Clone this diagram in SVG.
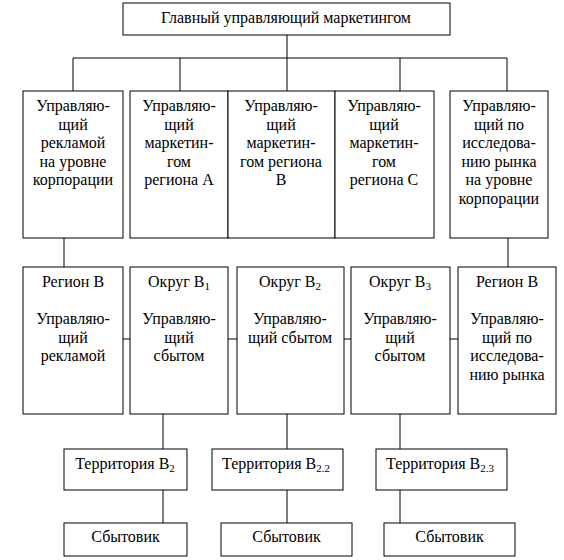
<svg xmlns="http://www.w3.org/2000/svg" width="564" height="560" viewBox="0 0 564 560" font-family="Liberation Serif, serif">
<style>
rect{fill:#fff;stroke:#000;stroke-width:1}
text{font-family:'Liberation Serif','Times New Roman',serif;font-size:16px;fill:#000;text-anchor:middle}
.sub{font-size:11px}
#connectors line{stroke:#000;stroke-width:1}
</style>
<rect x="0" y="0" width="564" height="560" style="stroke:none"/>
<g id="connectors">
<line x1="287" y1="35" x2="287" y2="58"/>
<line x1="73" y1="58" x2="507" y2="58"/>
<line x1="73" y1="58" x2="73" y2="91"/>
<line x1="180" y1="58" x2="180" y2="91"/>
<line x1="287" y1="58" x2="287" y2="91"/>
<line x1="400" y1="58" x2="400" y2="91"/>
<line x1="507" y1="58" x2="507" y2="91"/>
<line x1="64" y1="238" x2="64" y2="267"/>
<line x1="508" y1="238" x2="508" y2="267"/>
<line x1="123" y1="339" x2="130" y2="339"/>
<line x1="228" y1="339" x2="237" y2="339"/>
<line x1="344" y1="339" x2="351" y2="339"/>
<line x1="450" y1="339" x2="458" y2="339"/>
<line x1="163" y1="414" x2="163" y2="449"/>
<line x1="287" y1="414" x2="287" y2="449"/>
<line x1="400" y1="414" x2="400" y2="449"/>
<line x1="163" y1="490" x2="163" y2="523"/>
<line x1="287" y1="490" x2="287" y2="523"/>
<line x1="400" y1="490" x2="400" y2="523"/>
</g>
<g id="top">
<rect x="123" y="3" width="327" height="32"/>
<text x="286" y="23">Главный управляющий маркетингом</text>
</g>
<g id="r1a">
<rect x="23" y="91" width="100" height="147"/>
<text x="73" y="111">Управляю-</text><text x="73" y="129.5">щий</text><text x="73" y="148">рекламой</text><text x="73" y="166.5">на уровне</text><text x="73" y="185">корпорации</text>
</g>
<g id="r1b">
<rect x="130" y="91" width="98" height="147"/>
<text x="179" y="111">Управляю-</text><text x="179" y="129.5">щий</text><text x="179" y="148">маркетин-</text><text x="179" y="166.5">гом</text><text x="179" y="185">региона А</text>
</g>
<g id="r1c">
<rect x="228" y="91" width="107" height="147"/>
<text x="281" y="111">Управляю-</text><text x="281" y="129.5">щий</text><text x="281" y="148">маркетин-</text><text x="281" y="166.5">гом региона</text><text x="281" y="185">В</text>
</g>
<g id="r1d">
<rect x="335" y="91" width="99" height="147"/>
<text x="384" y="111">Управляю-</text><text x="384" y="129.5">щий</text><text x="384" y="148">маркетин-</text><text x="384" y="166.5">гом</text><text x="384" y="185">региона С</text>
</g>
<g id="r1e">
<rect x="450" y="91" width="98" height="147"/>
<text x="499" y="111">Управляю-</text><text x="499" y="129.5">щий по</text><text x="499" y="148">исследова-</text><text x="499" y="166.5">нию рынка</text><text x="499" y="185">на уровне</text><text x="499" y="203.5">корпорации</text>
</g>
<g id="r2a">
<rect x="23" y="267" width="100" height="147"/>
<text x="73" y="287">Регион В</text><text x="73" y="324">Управляю-</text><text x="73" y="342.5">щий</text><text x="73" y="361">рекламой</text>
</g>
<g id="r2b">
<rect x="130" y="267" width="98" height="147"/>
<text x="179" y="287">Округ В<tspan class="sub" dy="3">1</tspan></text><text x="179" y="324">Управляю-</text><text x="179" y="342.5">щий</text><text x="179" y="361">сбытом</text>
</g>
<g id="r2c">
<rect x="237" y="267" width="107" height="147"/>
<text x="290" y="287">Округ В<tspan class="sub" dy="3">2</tspan></text><text x="290" y="324">Управляю-</text><text x="290" y="342.5">щий сбытом</text>
</g>
<g id="r2d">
<rect x="351" y="267" width="99" height="147"/>
<text x="400" y="287">Округ В<tspan class="sub" dy="3">3</tspan></text><text x="400" y="324">Управляю-</text><text x="400" y="342.5">щий</text><text x="400" y="361">сбытом</text>
</g>
<g id="r2e">
<rect x="458" y="267" width="98" height="147"/>
<text x="507" y="287">Регион В</text><text x="507" y="324">Управляю-</text><text x="507" y="342.5">щий по</text><text x="507" y="361">исследова-</text><text x="507" y="379.5">нию рынка</text>
</g>
<g id="t1">
<rect x="64" y="449" width="123" height="41"/>
<text x="125" y="469">Территория В<tspan class="sub" dy="3">2</tspan></text>
</g>
<g id="t2">
<rect x="212" y="449" width="131" height="41"/>
<text x="276" y="469">Территория В<tspan class="sub" dy="3">2.2</tspan></text>
</g>
<g id="t3">
<rect x="376" y="449" width="131" height="41"/>
<text x="440" y="469">Территория В<tspan class="sub" dy="3">2.3</tspan></text>
</g>
<g id="s1">
<rect x="64" y="523" width="123" height="33"/>
<text x="125.5" y="542">Сбытовик</text>
</g>
<g id="s2">
<rect x="221" y="523" width="131" height="33"/>
<text x="286.5" y="542">Сбытовик</text>
</g>
<g id="s3">
<rect x="384" y="523" width="131" height="33"/>
<text x="449.5" y="542">Сбытовик</text>
</g>
</svg>
